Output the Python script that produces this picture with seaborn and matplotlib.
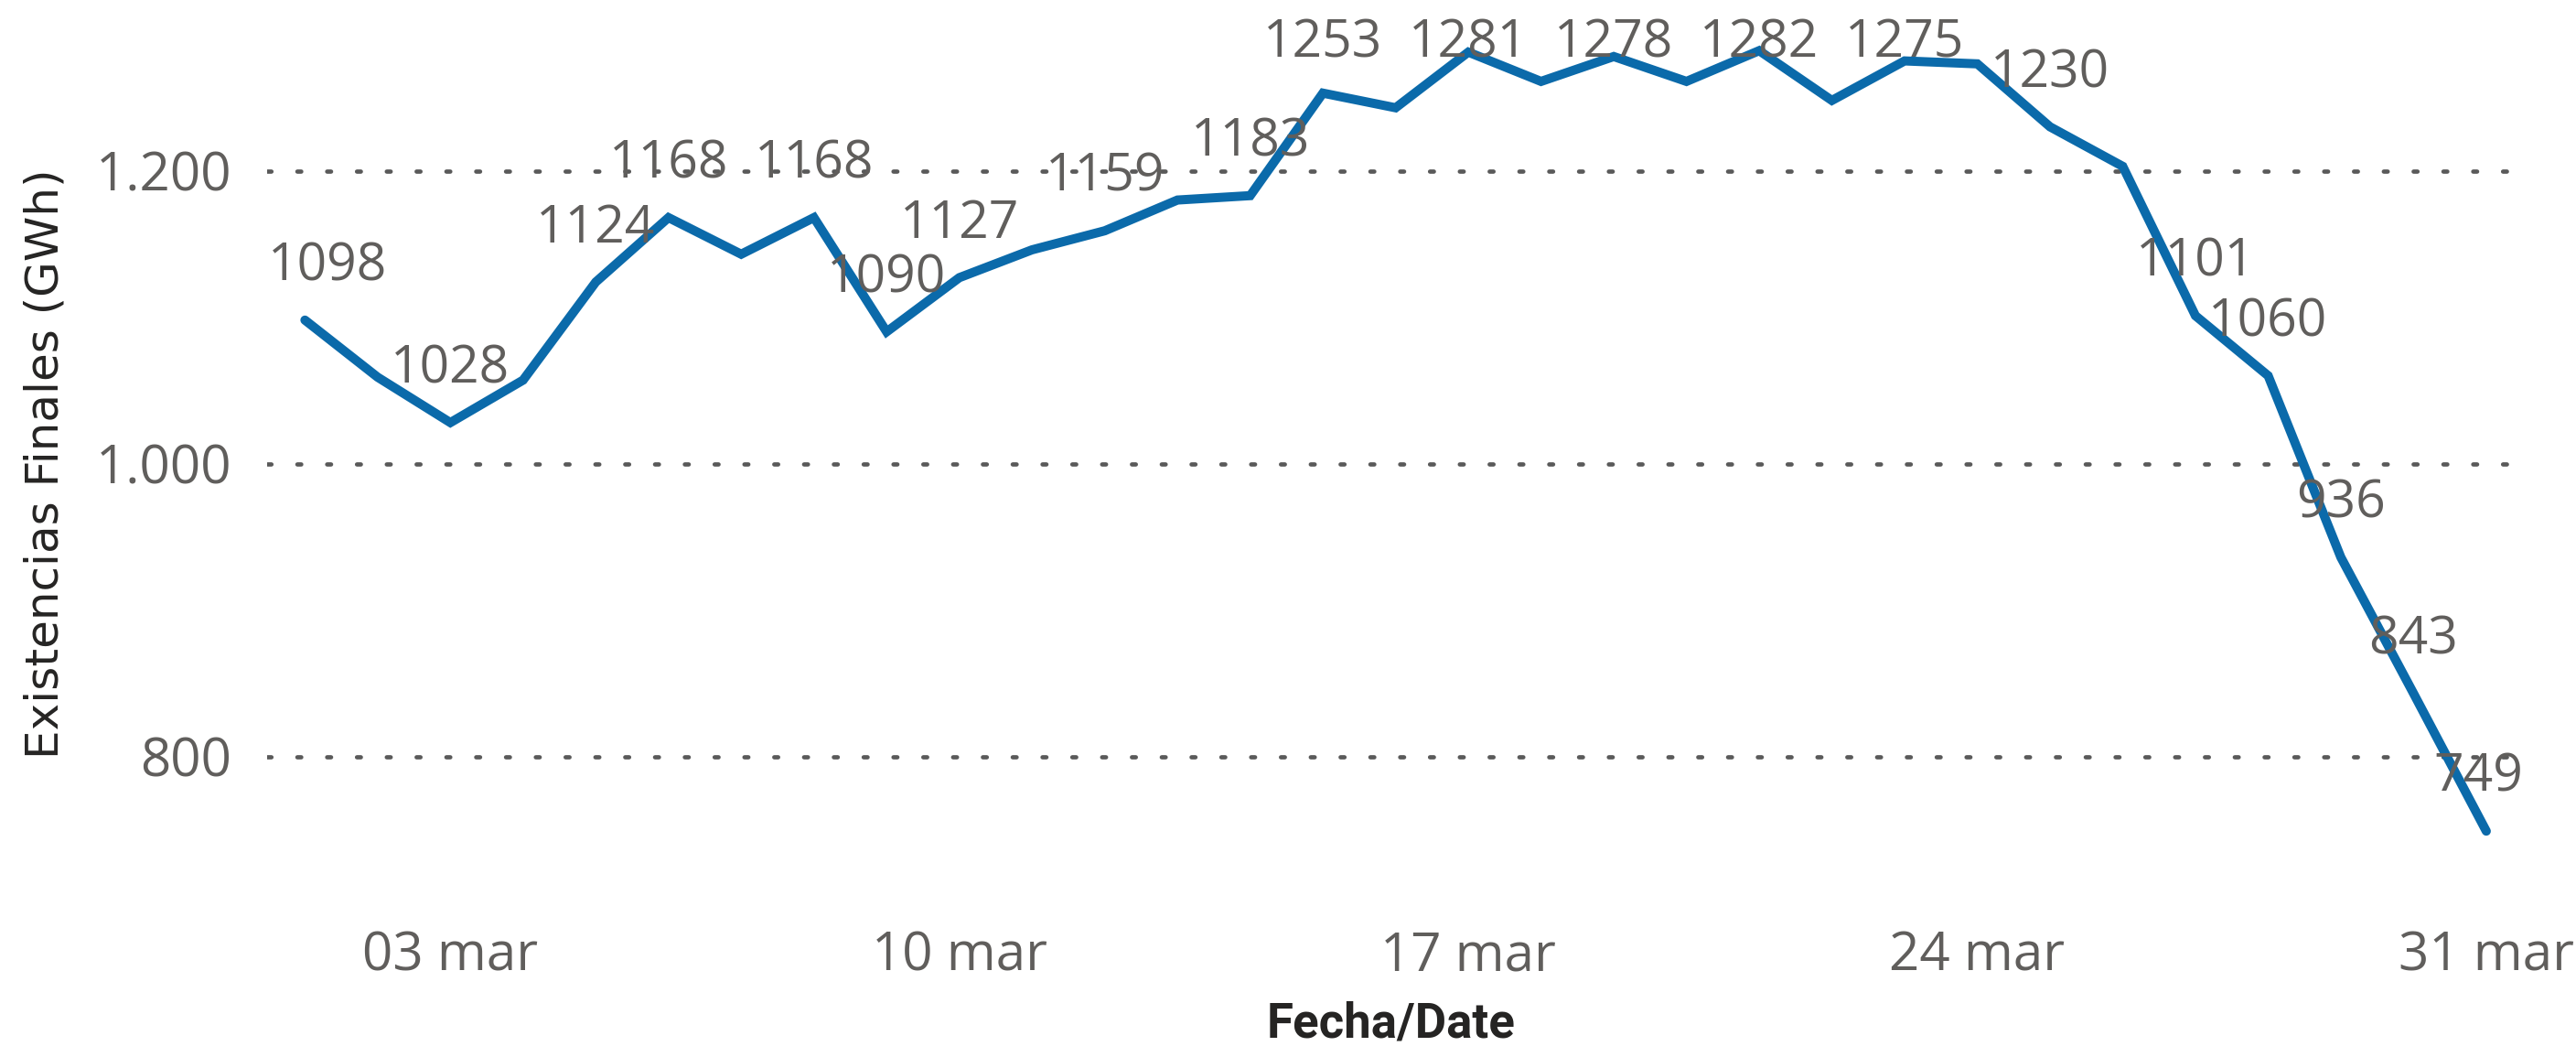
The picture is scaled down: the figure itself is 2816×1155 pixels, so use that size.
import matplotlib
matplotlib.use("Agg")
import matplotlib.pyplot as plt
import matplotlib.dates as mdates
from matplotlib.ticker import FuncFormatter
import seaborn as sns
import pandas as pd

# daily final stock, March
dates = pd.date_range("2024-03-01", "2024-03-31", freq="D")
stock = [1098, 1059, 1028, 1057, 1124, 1168, 1143, 1168, 1090, 1127,
         1146, 1159, 1180, 1183, 1253, 1243, 1281, 1261, 1278, 1261,
         1282, 1248, 1275, 1273, 1230, 1203, 1101, 1060, 936, 843, 749]
# days that carry a data label
labelled_days = [1, 3, 5, 6, 8, 9, 10, 12, 14, 15, 17, 19, 21, 23, 25,
                 27, 28, 29, 30, 31]
tick_days = ["2024-03-03", "2024-03-10", "2024-03-17", "2024-03-24", "2024-03-31"]
y_ticks = [800, 1000, 1200]

df = pd.DataFrame({"Fecha": dates, "Existencias": stock})

sns.set_style("white")
plt.rcParams["font.family"] = ["Open Sans", "DejaVu Sans"]

fig = plt.figure(figsize=(28.16, 11.55), dpi=100)
ax = fig.add_axes([0.1037, 0.1458, 0.8722, 0.8312])

blue = "#0B6AAA"
grey = "#605E5C"

sns.lineplot(data=df, x="Fecha", y="Existencias", ax=ax, color=blue,
             linewidth=7.2, solid_joinstyle="miter", solid_capstyle="round")

ax.set_ylim(700, 1300)
x0 = mdates.date2num(dates[0]) - 0.52
x1 = mdates.date2num(dates[-1]) + 0.38
ax.set_xlim(x0, x1)

for v in y_ticks:
    ax.axhline(v, color="#5a5a5a", linewidth=3.4, linestyle=(0, (0.9, 6.0)),
               dash_capstyle="round", zorder=0)

ax.set_yticks(y_ticks)
ax.yaxis.set_major_formatter(FuncFormatter(lambda v, p: f"{int(v):,}".replace(",", ".")))
ax.set_xticks(pd.to_datetime(tick_days))
ax.xaxis.set_major_formatter(mdates.DateFormatter("%d mar"))
ax.tick_params(axis="both", length=0, labelsize=42, labelcolor=grey)
ax.tick_params(axis="y", pad=28)
ax.tick_params(axis="x", pad=21)

for s in ax.spines.values():
    s.set_visible(False)
ax.grid(False)

# data labels, kept inside the plot top like the original
top_clamp = 1286.6
for d, v in zip(dates, stock):
    if d.day not in labelled_days:
        continue
    dx = 0
    if d.day == 1:
        dx = 18
    elif d.day == 31:
        dx = -6
    ax.annotate(str(v), xy=(d, min(v + 36.25, top_clamp)), xytext=(dx, 0),
                textcoords="offset points", ha="center", va="center",
                fontsize=41, color=grey)

ax.set_ylabel("Existencias Finales (GWh)", fontsize=36, color="#252423",
              family=["DejaVu Sans"], labelpad=22)
ax.set_xlabel("Fecha/Date", fontsize=38, color="#252423",
              family=["Liberation Sans Narrow", "Roboto"], weight="bold", labelpad=14)

fig.savefig("out.png", dpi=100)
